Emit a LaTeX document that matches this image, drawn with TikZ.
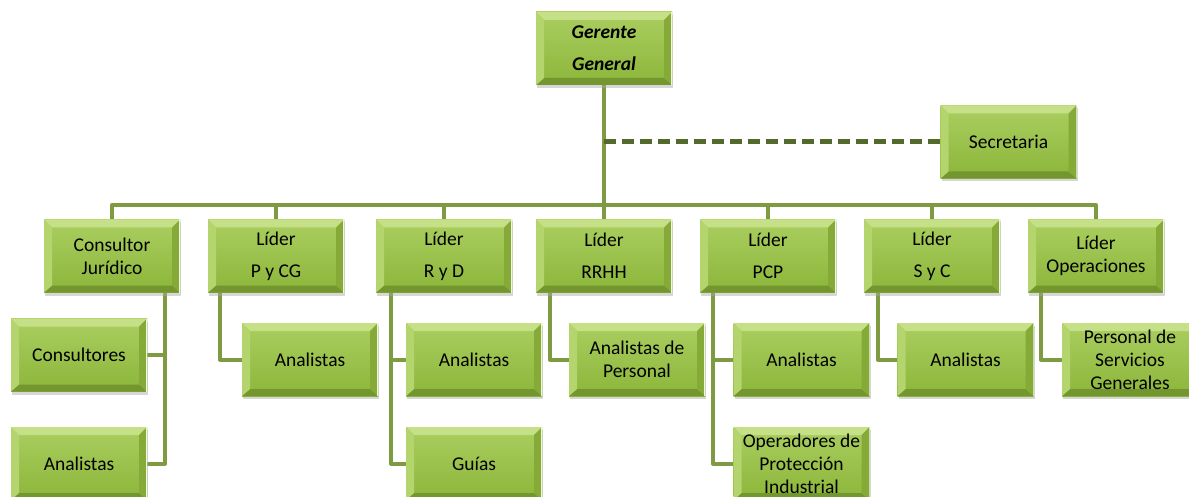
\documentclass[tikz,border=0pt]{standalone}
\usepackage{fontspec}
\setmainfont{Carlito}
\usetikzlibrary{shadows,calc}
\pgfdeclarelayer{background}
\pgfsetlayers{background,main}
\definecolor{facetop}{RGB}{170,206,96}
\definecolor{facebot}{RGB}{140,182,58}
\definecolor{bevtop}{RGB}{198,224,136}
\definecolor{bevleft}{RGB}{180,212,110}
\definecolor{bevright}{RGB}{134,170,56}
\definecolor{bevbot}{RGB}{116,150,46}
\definecolor{conn}{RGB}{127,155,66}
\definecolor{dashc}{RGB}{84,106,44}
\tikzset{
  orgbox/.style={minimum width=136pt, minimum height=73pt, inner sep=0pt,
    align=center, font=\fontsize{19.5}{23}\selectfont, text=black,
    top color=facetop, bottom color=facebot,
    drop shadow={shadow xshift=1pt, shadow yshift=-3pt, fill=black!35, opacity=.45},
    path picture={
      \fill[bevtop] (path picture bounding box.north west) -- (path picture bounding box.north east)
        -- ([shift={(-8pt,-8pt)}]path picture bounding box.north east)
        -- ([shift={(8pt,-8pt)}]path picture bounding box.north west) -- cycle;
      \fill[bevbot] (path picture bounding box.south west) -- (path picture bounding box.south east)
        -- ([shift={(-8pt,7pt)}]path picture bounding box.south east)
        -- ([shift={(8pt,7pt)}]path picture bounding box.south west) -- cycle;
      \fill[bevleft] (path picture bounding box.north west) -- (path picture bounding box.south west)
        -- ([shift={(8pt,7pt)}]path picture bounding box.south west)
        -- ([shift={(8pt,-8pt)}]path picture bounding box.north west) -- cycle;
      \fill[bevright] (path picture bounding box.north east) -- (path picture bounding box.south east)
        -- ([shift={(-8pt,7pt)}]path picture bounding box.south east)
        -- ([shift={(-8pt,-8pt)}]path picture bounding box.north east) -- cycle;
      \draw[white!70!bevtop, line width=1.5pt] (path picture bounding box.north east) -- (path picture bounding box.south east);
    }},
  twoline/.style={font=\fontsize{19.5}{32}\selectfont},
  headline/.style={font=\fontsize{19.5}{32}\selectfont\bfseries\itshape},
  link/.style={draw=conn, line width=4pt, line join=round},
  dlink/.style={draw=dashc, line width=5pt, dash pattern=on 12pt off 6pt}
}
\begin{document}
\begin{tikzpicture}[x=1pt,y=-1pt]
\useasboundingbox (0,0) rectangle (1189,497);
\node[orgbox, headline] (gg) at (604,48.5) {Gerente\\General};
\node[orgbox] (sec) at (1008.5,142) {Secretaria};
\node[orgbox] (c1) at (112,256) {Consultor\\Jurídico};
\node[orgbox, twoline] (c2) at (276,256) {Líder\\P y CG};
\node[orgbox, twoline] (c3) at (444,256) {Líder\\R y D};
\node[orgbox, twoline] (c4) at (604,256) {Líder\\RRHH};
\node[orgbox, twoline] (c5) at (768,256) {Líder\\PCP};
\node[orgbox, twoline] (c6) at (932,256) {Líder\\S y C};
\node[orgbox] (c7) at (1096,256) {Líder\\Operaciones};
\node[orgbox] (cons) at (79,355) {Consultores};
\node[orgbox] (a2) at (310,359.5) {Analistas};
\node[orgbox] (a3) at (474,359.5) {Analistas};
\node[orgbox] (a4) at (637,359.5) {Analistas de\\Personal};
\node[orgbox] (a5) at (801.5,359.5) {Analistas};
\node[orgbox] (a6) at (965.5,359.5) {Analistas};
\node[orgbox] (a7) at (1130,359.5) {Personal de\\Servicios\\Generales};
\node[orgbox] (an1) at (79,463.5) {Analistas};
\node[orgbox] (g3) at (474,463.5) {Guías};
\node[orgbox] (o5) at (801.5,463.5) {Operadores de\\Protección\\Industrial};
\coordinate (bus) at (604,205);
\begin{pgfonlayer}{background}
  % top level
  \draw[link] (gg.south) -- (bus);
  \draw[link] (c1.north) -- (c1.north |- bus) -- (c7.north |- bus) -- (c7.north);
  \foreach \n in {c2,c3,c4,c5,c6} \draw[link] (\n.north) -- (\n.north |- bus);
  \draw[dlink] (gg.south |- sec.west) -- (sec.west);
  % second level
  \draw[link] ([xshift=-15pt]c1.south east) |- (cons.east);
  \draw[link] ([xshift=-15pt]c1.south east) |- (an1.east);
  \draw[link] ([xshift=12pt]c2.south west) |- (a2.west);
  \draw[link] ([xshift=15pt]c3.south west) |- (a3.west);
  \draw[link] ([xshift=15pt]c3.south west) |- (g3.west);
  \draw[link] ([xshift=14pt]c4.south west) |- (a4.west);
  \draw[link] ([xshift=13pt]c5.south west) |- (a5.west);
  \draw[link] ([xshift=13pt]c5.south west) |- (o5.west);
  \draw[link] ([xshift=14pt]c6.south west) |- (a6.west);
  \draw[link] ([xshift=13pt]c7.south west) |- (a7.west);
\end{pgfonlayer}
\end{tikzpicture}
\end{document}
